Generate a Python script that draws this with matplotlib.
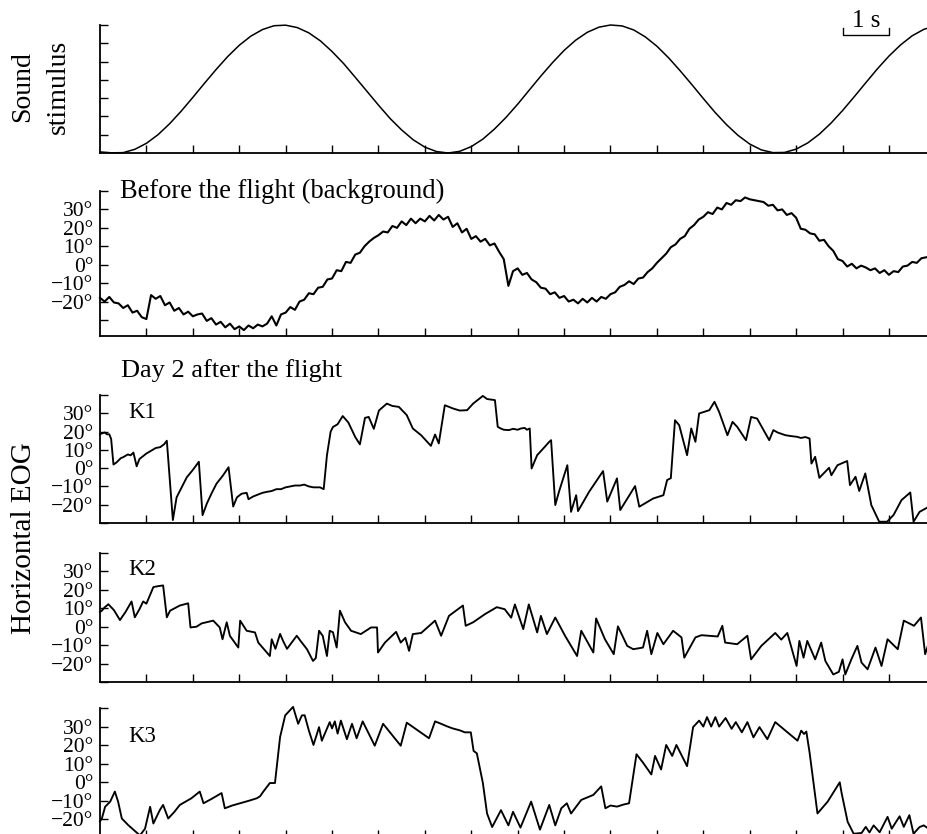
import numpy as np
import matplotlib
matplotlib.use("Agg")
import matplotlib.pyplot as plt

plt.rcParams['font.family'] = ['Liberation Serif', 'DejaVu Serif']

# ---------------- data ----------------
X_MAX = 17.82          # seconds visible
X_TICKS = list(range(1, 18))

# Sound stimulus (arbitrary units 0..7), sampled every 0.25 s
sound_t = [i * 0.25 for i in range(73)]
sound_v = [0.06, 0.01, 0.02, 0.20, 0.53, 1.00, 1.60, 2.29, 3.04, 3.81, 4.56, 5.27,
           5.89, 6.39, 6.75, 6.96, 6.99, 6.86, 6.57, 6.13, 5.55, 4.89, 4.14, 3.38,
           2.62, 1.89, 1.26, 0.72, 0.32, 0.08, 0.00, 0.09, 0.35, 0.76, 1.31, 1.95,
           2.67, 3.44, 4.21, 4.94, 5.61, 6.17, 6.60, 6.88, 7.00, 6.95, 6.73, 6.35,
           5.84, 5.21, 4.50, 3.75, 2.98, 2.23, 1.55, 0.96, 0.49, 0.17, 0.02, 0.03,
           0.21, 0.55, 1.03, 1.63, 2.32, 3.07, 3.84, 4.60, 5.30, 5.91, 6.41, 6.76, 6.96]

# Before the flight (deg), sampled every 0.1 s
before_t = [i * 0.1 for i in range(179)]
before_v = [-18, -20, -17.5, -20.5, -21, -23.5, -22, -26, -25, -28.5,
            -29.5, -16.5, -18.5, -17, -22, -20.5, -25, -23.5, -27, -25.5,
            -28, -27, -26.5, -30.5, -29, -32.5, -31, -34, -32, -35,
            -33.5, -35.5, -33, -34.5, -32.5, -33.5, -32, -28, -33, -27,
            -26, -23, -24.5, -20, -19, -15.5, -16, -12.5, -12, -8,
            -7.5, -3, -3.5, 1.5, 1, 5.5, 6.5, 10, 12.5, 14.5,
            16, 18, 17.5, 21, 20, 23.5, 21.5, 25, 22.5, 25,
            23.5, 26.5, 24, 27, 24.5, 26, 20.5, 22.5, 17.5, 19.5,
            14, 15.5, 12.5, 14, 10.5, 11.5, 7, 3, -11.5, -3.5,
            -2, -5.5, -4.5, -8, -9.5, -12.5, -13, -16, -15, -18,
            -17, -20, -19, -21, -18.5, -20.5, -18, -20, -17.5, -18.5,
            -16, -15, -12, -11, -9, -10.5, -7.5, -7, -4, -2,
            1, 3.5, 6, 9.5, 11, 14, 15.5, 19.5, 21.5, 24.5,
            26, 28.5, 27.5, 31, 30, 33.5, 32.5, 35, 34.5, 36.5,
            35.5, 35, 34.5, 34, 32, 32.5, 29.5, 30, 27, 28,
            25.5, 19.5, 19, 17, 16.5, 13, 13.5, 10, 7.5, 3,
            2, -1, 0.5, -2, -0.5, -1.5, -3, -2, -4.5, -3,
            -5.5, -3.5, -4, -1, -0.5, 1.5, 1, 3.5, 4]

# Day 2 after the flight, subjects K1..K3: (time s, deg)
k1_trace = np.array([
    (0.0, 18.5), (0.04, 19), (0.1, 19.5), (0.15, 18.5), (0.2, 18.5), (0.24, 16), (0.29, 2),
    (0.35, 3), (0.45, 5.5), (0.5, 6), (0.6, 7.5), (0.66, 7), (0.72, 8.5), (0.79, 1), (0.85, 5),
    (1.0, 8), (1.1, 9.5), (1.2, 11), (1.3, 11.5), (1.35, 12.5), (1.38, 13), (1.44, 15),
    (1.57, -28.4), (1.65, -16), (1.75, -11), (1.87, -5), (2.0, -1), (2.13, 3.5),
    (2.21, -25.7), (2.3, -19.5), (2.4, -14), (2.51, -8.5), (2.65, -4), (2.77, 0.5),
    (2.87, -21), (2.95, -16), (3.05, -14), (3.16, -13.5), (3.2, -17), (3.3, -15.5),
    (3.4, -14.5), (3.5, -13.5), (3.59, -13), (3.7, -12.5), (3.8, -11.5), (3.9, -11.5),
    (3.95, -11), (4.0, -10.5), (4.1, -10), (4.2, -9.5), (4.31, -9.5), (4.4, -9),
    (4.5, -10), (4.6, -10.5), (4.74, -10.5), (4.82, -11.5), (4.89, 7), (4.97, 20),
    (5.02, 22.5), (5.12, 24), (5.23, 28.5), (5.35, 25), (5.5, 17), (5.6, 13), (5.71, 27.5),
    (5.79, 28), (5.9, 21.5), (6.01, 31.5), (6.18, 35.3), (6.3, 34), (6.44, 33.5), (6.61, 29),
    (6.74, 21.7), (6.92, 18), (7.13, 12.2), (7.22, 18.4), (7.3, 13.5), (7.43, 34.4),
    (7.61, 32.6), (7.75, 31.5), (7.91, 31.7), (8.04, 35.3), (8.25, 39.5), (8.34, 37.8),
    (8.51, 37.2), (8.57, 22.6), (8.65, 21.5), (8.7, 21), (8.81, 20.8), (8.9, 21.5),
    (9.0, 21), (9.07, 21.7), (9.15, 22), (9.2, 21), (9.26, 21.7), (9.3, -0.2),
    (9.42, 7.1), (9.55, 10.7), (9.68, 14.4), (9.72, 15.3), (9.81, -20.2), (9.89, -12.9),
    (10.07, 1.6), (10.15, -23.9), (10.26, -14.8), (10.3, -23.5), (10.54, -12.9),
    (10.84, -1.6), (10.93, -18.3), (11.14, -5.6), (11.21, -22.9), (11.53, -9.8),
    (11.62, -21.1), (11.92, -16.6), (12.14, -14.8), (12.22, -6.5), (12.3, -5.5),
    (12.39, 26.2), (12.48, 23.5), (12.65, 7.1), (12.74, 21.7), (12.83, 14.4),
    (12.91, 29.9), (13.13, 31.7), (13.24, 36.3), (13.34, 30.8), (13.52, 18),
    (13.63, 25.3), (13.73, 22.6), (13.92, 15.3), (14.03, 28), (14.16, 27.1),
    (14.42, 15.3), (14.51, 20.8), (14.6, 19.5), (14.77, 18), (14.9, 17.5), (15.03, 17.1),
    (15.1, 16.5), (15.2, 17), (15.29, 16.2),
    (15.33, 2.5), (15.41, 6.2), (15.5, -5.3), (15.71, 0.2), (15.76, -3.9), (15.89, 1.6),
    (16.1, 3.9), (16.16, -9.3), (16.28, -4.7), (16.36, -12.5), (16.49, -2.9),
    (16.62, -20.2), (16.79, -29.3), (16.96, -29.3), (17.1, -25.6), (17.27, -17.5),
    (17.46, -13.3), (17.53, -29.3), (17.66, -23.9), (17.86, -21.1)])

k2_trace = np.array([
    (0.0, 8), (0.04, 8.7), (0.1, 10.5), (0.18, 12.2), (0.3, 9), (0.43, 3.6), (0.55, 8),
    (0.68, 13.7), (0.75, 5.1), (0.85, 9.5), (0.93, 13.7), (1.0, 12.5), (1.15, 21.5),
    (1.25, 22), (1.36, 22.4), (1.44, 5.1), (1.51, 8.7), (1.72, 11.5), (1.9, 12.7),
    (1.95, -0.4), (2.08, 0), (2.19, 1.8), (2.44, 3.3), (2.58, -0.4), (2.64, -6.8),
    (2.73, 2.4), (2.8, -5), (2.98, -11.3), (3.02, 3.3), (3.16, -2.2), (3.34, -3.1),
    (3.41, -8.6), (3.66, -15.9), (3.7, -6.8), (3.78, -12), (3.88, -3.9), (3.95, -8),
    (4.03, -12), (4.24, -4.9), (4.33, -8), (4.46, -12.2), (4.59, -18.6), (4.65, -17),
    (4.72, -2.2), (4.8, -5), (4.89, -15.9), (4.95, -2.2), (5.02, -3), (5.1, -11.3),
    (5.17, 8.7), (5.28, 2.4), (5.41, -2.2), (5.62, -4), (5.84, -0.4), (5.97, -0.4),
    (5.99, -14), (6.14, -8.6), (6.38, -2.8), (6.48, -8.6), (6.58, -6), (6.66, -13.1),
    (6.74, -4), (6.92, -3.4), (7.22, 3.3), (7.35, -4.9), (7.52, 5.9), (7.82, 11.5),
    (7.88, 0.5), (8.04, 2.4), (8.3, 6.9), (8.55, 10.6), (8.72, 9.5), (8.86, 4.9),
    (8.94, 12.1), (9.12, -1.3), (9.24, 12.1), (9.42, -3.1), (9.5, 5.9), (9.63, -4),
    (9.81, 5), (10.02, -4.9), (10.28, -15.9), (10.37, -2.2), (10.63, -14), (10.69, 4.5),
    (10.88, -6.8), (11.07, -14.9), (11.16, 0.2), (11.36, -10.4), (11.49, -12.2),
    (11.7, -11.3), (11.79, -2.2), (11.88, -14.9), (12.01, -3.4), (12.14, -9.5),
    (12.35, -2.2), (12.53, -5.8), (12.59, -16.8), (12.83, -5.8), (12.96, -4.6),
    (13.31, -5.3), (13.41, 0.5), (13.47, -8.6), (13.73, -9.5), (13.95, -4.9),
    (14.03, -17.7), (14.25, -10.4), (14.55, -3.4), (14.68, -7), (14.81, -3.4),
    (15.01, -21.3), (15.07, -7.7), (15.16, -16.8), (15.24, -7.7), (15.41, -17.7),
    (15.54, -8.6), (15.63, -18.6), (15.8, -25.9), (15.92, -24.5), (16.0, -17.7),
    (16.06, -25.9), (16.19, -17.7), (16.32, -10.4), (16.41, -19.5), (16.54, -23.1),
    (16.71, -11.3), (16.84, -21.3), (16.97, -6.8), (17.19, -12.2), (17.32, 3.3),
    (17.54, 0.5), (17.69, 5), (17.78, -14.9), (17.86, -8.6)])

k3_trace = np.array([
    (0.0, -21), (0.04, -19.5), (0.11, -13.2), (0.22, -10.4), (0.32, -5), (0.39, -10.4),
    (0.47, -19.5), (0.61, -23.1), (0.72, -25.5), (0.86, -28.6), (0.97, -25), (1.08, -13.2),
    (1.15, -22.2), (1.29, -14.9), (1.36, -12.2), (1.47, -19.5), (1.6, -16), (1.72, -12.2),
    (1.97, -8.6), (2.15, -5), (2.23, -11.3), (2.4, -9), (2.62, -5.8), (2.69, -14),
    (2.85, -12.5), (3.02, -11.3), (3.2, -10), (3.38, -8.6), (3.45, -7.5), (3.52, -5),
    (3.66, -0.4), (3.77, -0.4), (3.88, 24.3),
    (3.99, 36), (4.16, 40.6), (4.27, 31.5), (4.35, 36), (4.41, 36.1), (4.5, 27.9),
    (4.6, 20.1), (4.72, 29.7), (4.78, 22.4), (4.95, 32.4), (5.0, 29), (5.06, 32.8),
    (5.12, 26.2), (5.19, 33.2), (5.32, 23.2), (5.43, 31.5), (5.53, 23.7), (5.66, 32.8),
    (5.92, 19.7), (6.1, 31.5), (6.48, 19.7), (6.61, 32.1), (7.09, 23.7), (7.22, 32.8),
    (7.35, 31.5), (7.47, 30.2), (7.6, 29), (7.75, 28), (7.86, 26.9), (7.99, 26.9),
    (8.05, 16.9), (8.12, 15.6), (8.25, -0.4),
    (8.34, -16.8), (8.45, -24.1), (8.64, -15), (8.8, -23.2), (8.9, -15.9), (9.06, -24.4),
    (9.29, -10.4), (9.48, -25.5), (9.68, -12.2), (9.81, -23.2), (9.94, -14), (10.06, -11.3),
    (10.15, -16.8), (10.37, -9.5), (10.63, -6.8), (10.8, -2.2), (10.89, -14), (11.0, -12.5),
    (11.14, -13.1), (11.28, -12), (11.4, -11.3), (11.56, 15.1), (11.7, 10.6), (11.88, 4.2),
    (11.96, 14.2), (12.09, 6.9), (12.2, 20.1), (12.33, 14.2), (12.42, 20.1), (12.65, 8.7),
    (12.78, 29.7), (12.91, 33.2), (13.0, 30), (13.08, 35.1), (13.17, 30), (13.26, 35.1),
    (13.34, 30), (13.48, 34.6), (13.61, 28.8), (13.7, 32.4), (13.83, 26.9), (13.95, 32.4),
    (14.08, 24.2), (14.21, 29.7), (14.38, 23.2), (14.55, 32.4), (14.68, 29.7), (15.03, 22.4),
    (15.11, 27.8), (15.17, 26), (15.22, 27.3), (15.29, 16), (15.46, -16.8), (15.68, -10.4),
    (15.94, 0), (15.98, -5.8), (16.11, -21.3), (16.24, -27.7), (16.41, -27.3), (16.5, -24),
    (16.58, -27), (16.67, -23.2), (16.8, -26.9), (16.97, -18.6), (17.06, -25), (17.23, -18.3),
    (17.32, -24), (17.44, -17.7), (17.53, -27.7), (17.66, -24.1), (17.75, -23.2), (17.86, -25.1)])

DEG_TICKS = [-30, -20, -10, 0, 10, 20, 30, 40]
DEG_LABELED = [-20, -10, 0, 10, 20, 30]
SCALE_BAR_START = 16   # s
SCALE_BAR_LEN = 1      # s

# ---------------- layout ----------------
FW, FH = 927, 834
fig = plt.figure(figsize=(FW / 100, FH / 100), dpi=100)
LEFT = 100 / FW


def panel(top_px, bot_px):
    return fig.add_axes([LEFT, 1 - bot_px / FH, 1 - LEFT, (bot_px - top_px) / FH])


def style(ax):
    for s in ('top', 'right'):
        ax.spines[s].set_visible(False)
    for s in ('left', 'bottom'):
        ax.spines[s].set_linewidth(1.3)
    ax.set_xlim(0, X_MAX)
    ax.set_xticks(X_TICKS)
    ax.set_xticklabels([])
    ax.tick_params(direction='in', length=6, width=1.0, pad=5, labelsize=15.5)


def deg_label(v):
    return (f"\u2212{abs(v)}\u00b0" if v < 0 else f"{v}\u00b0") if v in DEG_LABELED else ""


LW = 1.35
ax1 = panel(25, 153)
style(ax1)
ax1.plot(sound_t, sound_v, color='black', lw=1.1, clip_on=False)
ax1.set_ylim(0, 7)
ax1.set_yticks(range(1, 8))
ax1.set_yticklabels([])

ax2 = panel(191, 336)
style(ax2)
ax2.plot(before_t, before_v, color='black', lw=1.5, clip_on=False)
ax2.set_ylim(-38.7, 40)

axes_k = []
for (top, bot), tr in zip([(395, 523), (553, 682), (708, 838)], [k1_trace, k2_trace, k3_trace]):
    ax = panel(top, bot)
    style(ax)
    ax.plot(tr[:, 0], tr[:, 1], color='black', lw=LW, clip_on=False)
    ax.set_ylim(-30, 40)
    axes_k.append(ax)

for ax in [ax2] + axes_k:
    ax.set_yticks(DEG_TICKS)
    ax.set_yticklabels([deg_label(v) for v in DEG_TICKS])

# scale bar
y0, y1 = 6.45, 6.84
ax1.plot([SCALE_BAR_START, SCALE_BAR_START, SCALE_BAR_START + SCALE_BAR_LEN, SCALE_BAR_START + SCALE_BAR_LEN],
         [y1, y0, y0, y1], color='black', lw=1.0, clip_on=False)
ax1.text(SCALE_BAR_START + SCALE_BAR_LEN / 2, 6.89, f"{SCALE_BAR_LEN} s", ha='center', va='baseline', fontsize=18)

# texts
fig.text(23 / FW, 1 - 87 / FH, "Sound", rotation=90, ha='center', va='center', fontsize=20)
fig.text(58 / FW, 1 - 87 / FH, "stimulus", rotation=90, ha='center', va='center', fontsize=20)
fig.text(24 / FW, 1 - 538 / FH, "Horizontal EOG", rotation=90, ha='center', va='center', fontsize=21)
fig.text(120 / FW, 1 - 197.5 / FH, "Before the flight (background)", fontsize=19.1, va='baseline')
fig.text(121 / FW, 1 - 376.7 / FH, "Day 2 after the flight", fontsize=19, va='baseline')
for name, base in zip(["K1", "K2", "K3"], [418.3, 575, 741.7]):
    fig.text(128 / FW, 1 - base / FH, name, fontsize=16.5, va='baseline')

fig.savefig("out.png", dpi=100)
